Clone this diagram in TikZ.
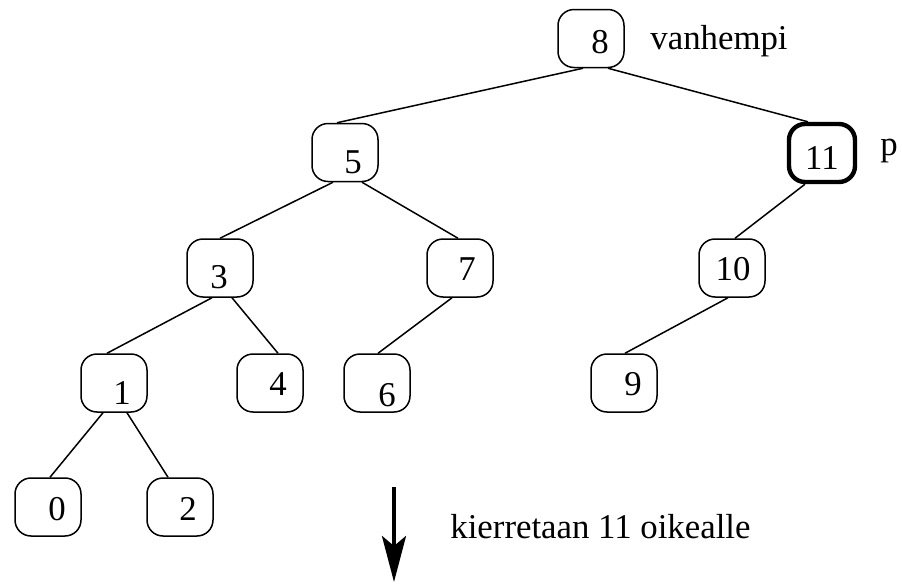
\documentclass[tikz,border=0pt]{standalone}
\usepackage{fontspec}
\setmainfont{Liberation Serif}
\usepackage{tikz}
\usetikzlibrary{arrows.meta}

\begin{document}
\begin{tikzpicture}[
	x=0.5pt, y=-0.5pt,
	every node/.style={font=\fontsize{17.4}{21}\selectfont},
	box/.style={draw, line width=0.75pt, rounded corners=8pt, minimum width=33pt, minimum height=29pt, inner sep=0pt},
	active/.style={box, line width=2.2pt},
	edge/.style={line width=0.75pt},
	turn arrow/.style={line width=2pt, -{Stealth[length=23pt, width=12pt, inset=5pt]}}
	]
	\useasboundingbox (0,0) rectangle (902,584);

	% =====================================================
	% SOLMUT
	% =====================================================
	\node[box, label={[shift={(9,3.5)}]center:8}] (n8) at (591,38.5) {};
	\node[box, label={[shift={(8,10)}]center:5}] (n5) at (345,152.5) {};
	\node[active, label={[shift={(0,5)}]center:11}] (n11) at (822,153) {};
	\node[box, label={[shift={(-1,9)}]center:3}] (n3) at (220,268) {};
	\node[box, label={[shift={(7,1)}]center:7}] (n7) at (460,268) {};
	\node[box, label={[shift={(1,1)}]center:10}] (n10) at (732,268) {};
	\node[box, label={[shift={(8,10)}]center:1}] (n1) at (114,383) {};
	\node[box, label={[shift={(8,1)}]center:4}] (n4) at (270,383) {};
	\node[box, label={[shift={(10,12)}]center:6}] (n6) at (377,383) {};
	\node[box, label={[shift={(9,1)}]center:9}] (n9) at (624,383) {};
	\node[box, label={[shift={(9,2)}]center:0}] (n0) at (48,507) {};
	\node[box, label={[shift={(8,2)}]center:2}] (n2) at (180,507) {};

	% =====================================================
	% KAARET
	% =====================================================
	\draw[edge] ([xshift=-4pt]n8.south) -- ([xshift=-4pt]n5.north);
	\draw[edge] ([xshift=8.5pt]n8.south) -- ([xshift=-7pt]n11.north);
	\draw[edge] ([xshift=-6pt]n5.south) -- (n3.north);
	\draw[edge] ([xshift=8.5pt]n5.south) -- ([xshift=-1pt]n7.north);
	\draw[edge] ([xshift=-8.5pt]n11.south) -- ([xshift=1.5pt]n10.north);
	\draw[edge] ([xshift=-4pt]n3.south) -- ([xshift=-3.5pt]n1.north);
	\draw[edge] ([xshift=6pt]n3.south) -- ([xshift=4pt]n4.north);
	\draw[edge] ([xshift=-4pt]n7.south) -- ([xshift=0.5pt]n6.north);
	\draw[edge] ([xshift=-2pt]n10.south) -- ([xshift=0.5pt]n9.north);
	\draw[edge] ([xshift=-5.5pt]n1.south) -- ([xshift=1pt]n0.north);
	\draw[edge] ([xshift=6.5pt]n1.south) -- ([xshift=-6pt]n2.north);

	% =====================================================
	% TEKSTIT
	% =====================================================
	\node[anchor=base west, inner sep=0pt] (parent) at (650,49) {vanhempi};
	\node[anchor=base west, inner sep=0pt] (pointer) at (880,155) {p};

	% =====================================================
	% KIERTO
	% =====================================================
	\coordinate (ArrowTop) at (394,487);
	\coordinate (ArrowEnd) at (394,582);
	\draw[turn arrow] (ArrowTop) -- (ArrowEnd);
	\node[anchor=base west, inner sep=0pt] (rotate) at (450,538) {kierretaan 11 oikealle};

\end{tikzpicture}
\end{document}
